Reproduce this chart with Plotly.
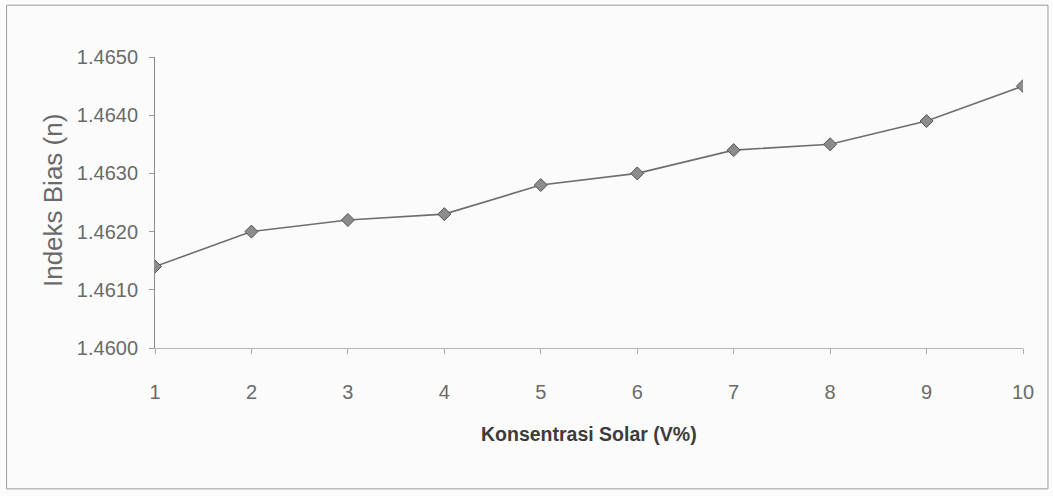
import plotly.graph_objects as go

# Solar concentration (V%) and measured refractive index
konsentrasi = [1, 2, 3, 4, 5, 6, 7, 8, 9, 10]
indeks_bias = [1.4614, 1.4620, 1.4622, 1.4623, 1.4628, 1.4630, 1.4634, 1.4635, 1.4639, 1.4645]

y_ticks = [1.4600, 1.4610, 1.4620, 1.4630, 1.4640, 1.4650]
y_tick_text = ["1.4600", "1.4610", "1.4620", "1.4630", "1.4640", "1.4650"]

SANS = "Liberation Sans, Arial, sans-serif"

fig = go.Figure()
fig.add_trace(go.Scatter(
    x=konsentrasi,
    y=indeks_bias,
    mode="lines+markers",
    line=dict(color="#6e6e6e", width=1.6),
    marker=dict(symbol="diamond", size=10, color="#8c8c8c",
                line=dict(color="#555555", width=1)),
    showlegend=False,
))

fig.update_layout(
    width=1053, height=496,
    margin=dict(l=155, r=30, t=57, b=148),
    paper_bgcolor="#fbfbfb",
    plot_bgcolor="#fbfbfb",
    font=dict(family=SANS, color="#6a6a6a"),
)

fig.update_xaxes(
    range=[1, 10],
    tickvals=konsentrasi,
    ticks="outside", ticklen=5, tickcolor="#aaaaaa",
    ticklabelstandoff=21,
    showline=True, linecolor="#b5b5b5", linewidth=1,
    showgrid=False, zeroline=False,
    tickfont=dict(family=SANS, size=20, color="#6a6a6a"),
)
fig.update_yaxes(
    range=[1.4600, 1.4650],
    tickvals=y_ticks, ticktext=y_tick_text,
    ticks="outside", ticklen=5, tickcolor="#999999",
    ticklabelstandoff=7,
    showline=True, linecolor="#8a8a8a", linewidth=1,
    showgrid=False, zeroline=False,
    tickfont=dict(family=SANS, size=20, color="#6a6a6a"),
)

# Axis titles
fig.add_annotation(
    text="Indeks Bias (n)", textangle=-90,
    xref="paper", yref="paper", x=-0.1175, y=0.505,
    xanchor="center", yanchor="middle",
    showarrow=False, font=dict(family=SANS, size=26, color="#6a6a6a"),
)
fig.add_annotation(
    text="<b>Konsentrasi Solar (V%)</b>",
    xref="paper", yref="paper", x=0.5, y=-0.295,
    xanchor="center", yanchor="middle",
    showarrow=False,
    font=dict(family=SANS, size=19.5, color="#3c3c3c"),
)

# Outer chart frame
fig.add_shape(
    type="rect", xref="paper", yref="paper",
    x0=-0.171, x1=1.0288, y0=-0.484, y1=1.178,
    line=dict(color="#9a9a9a", width=1),
)

fig.write_html("out.html")
